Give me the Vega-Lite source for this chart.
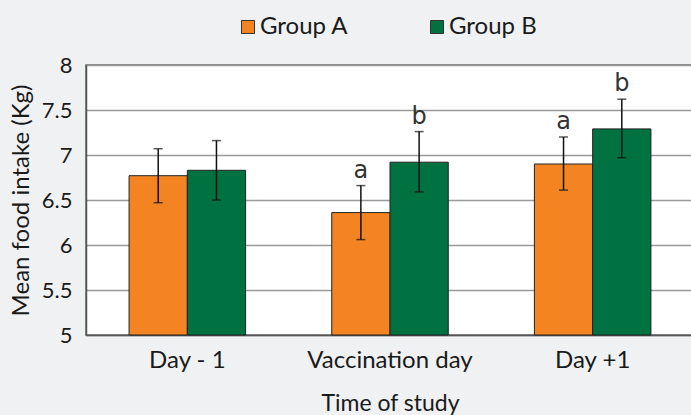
{
  "$schema": "https://vega.github.io/schema/vega-lite/v6.json",
  "width": 608,
  "height": 270,
  "autosize": "none",
  "padding": {"left": 86, "top": 65, "right": -3, "bottom": 80},
  "background": "#f0f1f3",
  "config": {
    "font": "Lato",
    "view": {"fill": "#ffffff", "stroke": "#666666", "strokeWidth": 1.5}
  },
  "data": {
    "values": [
      {"time": "Day - 1", "group": "Group A", "mean": 6.77, "lo": 6.47, "hi": 7.07, "letter": ""},
      {"time": "Day - 1", "group": "Group B", "mean": 6.83, "lo": 6.50, "hi": 7.16, "letter": ""},
      {"time": "Vaccination day", "group": "Group A", "mean": 6.36, "lo": 6.06, "hi": 6.66, "letter": "a"},
      {"time": "Vaccination day", "group": "Group B", "mean": 6.92, "lo": 6.59, "hi": 7.26, "letter": "b"},
      {"time": "Day +1", "group": "Group A", "mean": 6.90, "lo": 6.61, "hi": 7.20, "letter": "a"},
      {"time": "Day +1", "group": "Group B", "mean": 7.29, "lo": 6.97, "hi": 7.62, "letter": "b"}
    ]
  },
  "encoding": {
    "x": {
      "field": "time",
      "type": "nominal",
      "sort": ["Day - 1", "Vaccination day", "Day +1"],
      "scale": {"paddingInner": 0.425, "paddingOuter": 0.2125},
      "title": "Time of study",
      "axis": {
        "labelAngle": 0,
        "labelFontSize": 24,
        "labelColor": "#1a1a1a",
        "labelPadding": 13,
        "ticks": false,
        "domainColor": "#555555",
        "domainWidth": 1.5,
        "titleFontSize": 23,
        "titleFontWeight": "normal",
        "titleColor": "#1a1a1a",
        "titlePadding": 20
      }
    },
    "xOffset": {"field": "group", "type": "nominal", "scale": {"paddingInner": 0, "paddingOuter": 0}}
  },
  "layer": [
    {
      "mark": {"type": "bar", "stroke": "#222222", "strokeWidth": 1},
      "encoding": {
        "y": {
          "field": "mean",
          "type": "quantitative",
          "scale": {"domain": [5, 8], "zero": false, "nice": false},
          "title": "Mean food intake (Kg)",
          "axis": {
            "values": [5, 5.5, 6, 6.5, 7, 7.5, 8],
            "format": "~g",
            "labelFontSize": 22,
            "labelColor": "#1a1a1a",
            "labelPadding": 14,
            "ticks": false,
            "gridColor": "#9a9a9a",
            "gridWidth": 1.5,
            "domainColor": "#555555",
            "domainWidth": 1.5,
            "titleFontSize": 24,
            "titleFontWeight": "normal",
            "titleColor": "#1a1a1a",
            "titlePadding": 8
          }
        },
        "y2": {"datum": 5},
        "color": {
          "field": "group",
          "type": "nominal",
          "scale": {"range": ["#f38421", "#007140"]},
          "legend": {
            "title": null,
            "orient": "none",
            "legendX": 150,
            "legendY": -50,
            "direction": "horizontal",
            "symbolType": "square",
            "symbolSize": 169,
            "symbolStrokeColor": "#333333",
            "symbolStrokeWidth": 1,
            "labelFontSize": 24,
            "labelColor": "#1a1a1a",
            "labelOffset": 0,
            "columnPadding": 76
          }
        }
      }
    },
    {
      "mark": {"type": "rule", "color": "#111111", "strokeWidth": 1.5},
      "encoding": {
        "y": {"field": "lo", "type": "quantitative"},
        "y2": {"field": "hi"}
      }
    },
    {
      "mark": {"type": "tick", "color": "#111111", "thickness": 1.5, "size": 9},
      "encoding": {"y": {"field": "lo", "type": "quantitative"}}
    },
    {
      "mark": {"type": "tick", "color": "#111111", "thickness": 1.5, "size": 9},
      "encoding": {"y": {"field": "hi", "type": "quantitative"}}
    },
    {
      "mark": {"type": "text", "dy": -8, "baseline": "alphabetic", "fontSize": 24, "font": "DejaVu Sans", "color": "#333333"},
      "encoding": {
        "y": {"field": "hi", "type": "quantitative"},
        "text": {"field": "letter"}
      }
    }
  ]
}
